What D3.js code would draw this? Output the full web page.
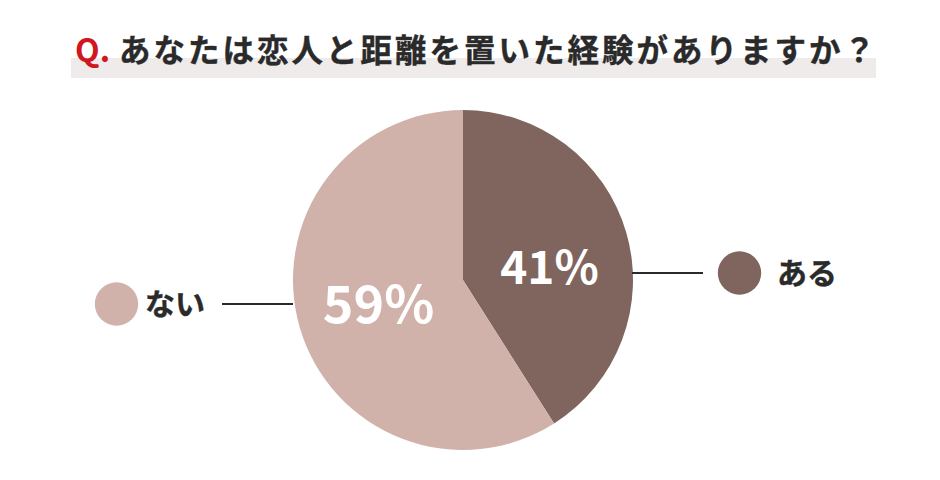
<!DOCTYPE html>
<html><head><meta charset="utf-8">
<script src="https://cdn.jsdelivr.net/npm/d3@7"></script>
<style>
html,body{margin:0;padding:0;background:#fff;}
svg{display:block;}
text{font-family:"Noto Sans CJK JP","Noto Sans",sans-serif;}
</style></head>
<body>
<svg id="chart" width="940" height="480"></svg>
<script>
const titleQ = "Q.";
const titleText = "あなたは恋人と距離を置いた経験がありますか？";
const categories = ["ある", "ない"];
const values = [41, 59];
const colors = ["#7f655d", "#d1b2ab"];

const svg = d3.select("#chart");
const W = 940, H = 480;
const cx = 463, cy = 280, R = 170;

// title highlight bar
svg.append("rect").attr("x", 71).attr("y", 58).attr("width", 805).attr("height", 20).attr("fill", "#eeebea");
svg.append("text").attr("x", 75).attr("y", 62).attr("font-size", 32).attr("font-weight", 700)
  .attr("fill", "#d0161e").text(titleQ);
svg.append("text").attr("x", 119).attr("y", 62).attr("font-size", 31.5).attr("font-weight", 700)
  .attr("letter-spacing", "3px").attr("fill", "#2a2a2a").attr("stroke", "#2a2a2a").attr("stroke-width", 0.4)
  .text(titleText);

const data = categories.map((c, i) => ({cat: c, value: values[i], color: colors[i]}));
const pie = d3.pie().sort(null).value(d => d.value);
const arcs = pie(data);
const arc = d3.arc().innerRadius(0).outerRadius(R);
const labelArc = d3.arc().innerRadius(88).outerRadius(88);

const g = svg.append("g").attr("transform", `translate(${cx},${cy})`);
g.selectAll("path").data(arcs).join("path").attr("d", arc).attr("fill", d => d.data.color);

const labelSizes = [46, 52];
const labelNudge = [[2, 12], [0, 0]];
g.selectAll("text.pct").data(arcs).join("text").attr("class", "pct")
  .attr("transform", (d, i) => {
    const [x, y] = labelArc.centroid(d);
    return `translate(${x + labelNudge[i][0]},${y + labelNudge[i][1]})`;
  })
  .attr("text-anchor", "middle").attr("dy", "0.36em")
  .attr("font-size", (d, i) => labelSizes[i]).attr("font-weight", 700).attr("fill", "#fff")
  .text(d => d.data.value + "%");

// legends with leader lines
const legend = [
  {i: 0, lineX1: 632, lineX2: 703, y: 273, dotX: 739.5, textX: 777},
  {i: 1, lineX1: 222, lineX2: 293, y: 304, dotX: 116.5, textX: 145}
];
legend.forEach(l => {
  svg.append("line").attr("x1", l.lineX1).attr("x2", l.lineX2).attr("y1", l.y).attr("y2", l.y)
    .attr("stroke", "#2a2a2a").attr("stroke-width", 1.8);
  svg.append("circle").attr("cx", l.dotX).attr("cy", l.y).attr("r", 21.7).attr("fill", data[l.i].color);
  svg.append("text").attr("x", l.textX).attr("y", l.y).attr("dy", "0.36em").attr("font-size", 30)
    .attr("font-weight", 700).attr("fill", "#2a2a2a").attr("stroke", "#2a2a2a").attr("stroke-width", 0.4)
    .text(data[l.i].cat);
});
</script>
</body></html>
